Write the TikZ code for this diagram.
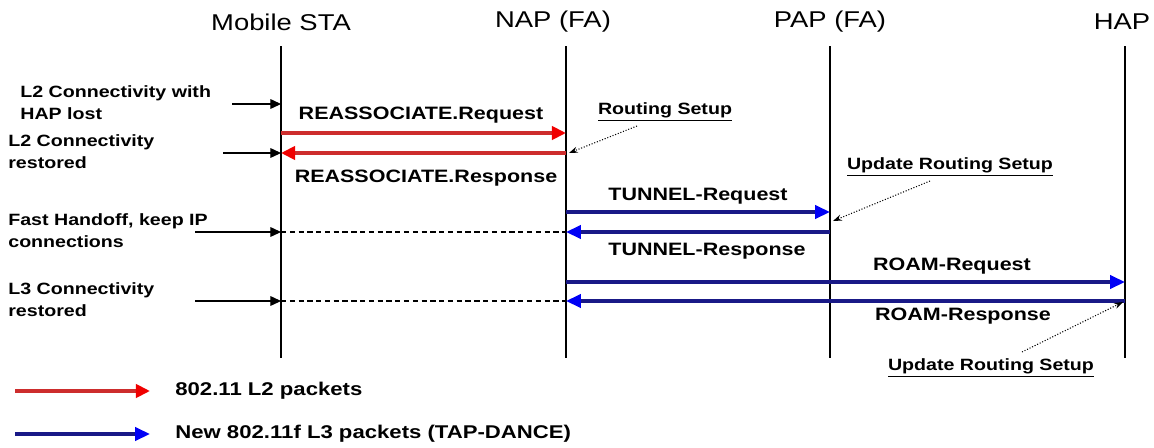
\documentclass[tikz,border=0pt]{standalone}
\usepackage{fontspec}
\setmainfont{Liberation Sans}[FakeStretch=1.2]
\usepackage{xcolor}
\usetikzlibrary{arrows.meta}

\definecolor{linered}{RGB}{205,45,45}
\definecolor{tipred}{RGB}{240,0,0}
\definecolor{lineblue}{RGB}{25,25,135}
\definecolor{tipblue}{RGB}{0,0,245}

\begin{document}
\begin{tikzpicture}[x=0.02cm,y=-0.02cm,
  hdr/.style={font=\fontsize{13}{15}\selectfont,inner sep=0pt},
  lbl/.style={font=\bfseries\fontsize{10.2}{12}\selectfont,inner sep=0pt},
  side/.style={font=\bfseries\fontsize{9.3}{12.5}\selectfont,align=left,anchor=west,inner sep=0pt},
  note/.style={font=\bfseries\fontsize{9.3}{12}\selectfont,inner sep=0pt},
  life/.style={line width=0.7pt},
  l2msg/.style={line width=2pt,linered,-{Triangle[length=8pt,width=7.5pt,color=tipred]}},
  l3msg/.style={line width=1.9pt,lineblue,-{Triangle[length=8.5pt,width=7.5pt,color=tipblue]}},
  event/.style={line width=0.6pt,-{Triangle[length=6pt,width=5.5pt]}},
  noteline/.style={densely dotted,line width=0.6pt,-{Stealth[length=5pt,width=3.5pt]}},
  fwd/.style={densely dashed,line width=0.6pt}]
  \useasboundingbox (0,0) rectangle (1154,447);

  % entities and lifelines
  \node[hdr] (sta) at (281,22) {Mobile STA};
  \node[hdr] (nap) at (553,22) {NAP (FA)};
  \node[hdr] (pap) at (830,22) {PAP (FA)};
  \node[hdr] (hap) at (1122,22) {HAP};
  \foreach \n/\x in {sta/281,nap/566,pap/830,hap/1125}{
    \coordinate (\n T) at (\x,46);
    \coordinate (\n B) at (\x,358);
    \draw[life] (\n T)--(\n B);
  }

  % message rows
  \coordinate (r0) at (0,104);
  \coordinate (r1) at (0,133);
  \coordinate (r2) at (0,153);
  \coordinate (r3) at (0,212);
  \coordinate (r4) at (0,232);
  \coordinate (r5) at (0,282);
  \coordinate (r6) at (0,301);

  \draw[l2msg] (staT|-r1)--(napT|-r1);
  \draw[l2msg] (napT|-r2)--(staT|-r2);
  \node[lbl] (reqa) at (421,115) {REASSOCIATE.Request};
  \node[lbl] (resa) at (426,178) {REASSOCIATE.Response};

  \draw[l3msg] (napT|-r3)--(papT|-r3);
  \draw[l3msg] (papT|-r4)--(napT|-r4);
  \node[lbl] (tunq) at (698,196) {TUNNEL-Request};
  \node[lbl] (tunr) at (707,251) {TUNNEL-Response};

  \draw[l3msg] (napT|-r5)--(hapT|-r5);
  \draw[l3msg] (hapT|-r6)--(napT|-r6);
  \node[lbl] (roaq) at (952,266) {ROAM-Request};
  \node[lbl] (roar) at (963,316) {ROAM-Response};

  \draw[fwd] (staT|-r4)--(napT|-r4);
  \draw[fwd] (staT|-r6)--(napT|-r6);

  % events at the station
  \node[side] (lost) at (20,102.5) {L2 Connectivity with\\HAP lost};
  \node[side] (l2ok) at (8,151.5) {L2 Connectivity\\restored};
  \node[side] (fho) at (8,230.5) {Fast Handoff, keep IP\\connections};
  \node[side] (l3ok) at (8,299.5) {L3 Connectivity\\restored};
  \coordinate (lostA) at (232,104);
  \coordinate (l2okA) at (223,153);
  \coordinate (fhoA) at (195,232);
  \coordinate (l3okA) at (195,301);
  \draw[event] (lostA)--(staT|-r0);
  \draw[event] (l2okA)--(staT|-r2);
  \draw[event] (fhoA)--(staT|-r4);
  \draw[event] (l3okA)--(staT|-r6);

  % routing notes
  \node[note] (rset) at (665,112) {\underline{Routing Setup}};
  \node[note] (upd1) at (950,167) {\underline{Update Routing Setup}};
  \node[note] (upd2) at (991,368) {\underline{Update Routing Setup}};
  \coordinate (rsetA) at (637,126);
  \coordinate (upd1A) at (930,181);
  \coordinate (upd2A) at (1022,352);
  \coordinate (rsetB) at (569,153);
  \coordinate (upd1B) at (833,221);
  \coordinate (upd2B) at (1123,302);
  \draw[noteline] (rsetA)--(rsetB);
  \draw[noteline] (upd1A)--(upd1B);
  \draw[noteline] (upd2A)--(upd2B);

  % legend
  \coordinate (lgA) at (15,391);
  \coordinate (lgB) at (150,391);
  \coordinate (lgC) at (15,434);
  \coordinate (lgD) at (150,434);
  \draw[l2msg] (lgA)--(lgB);
  \draw[l3msg] (lgC)--(lgD);
  \node[lbl,anchor=west,font=\bfseries\fontsize{10.5}{12}\selectfont] (lgl2) at (175,391) {802.11 L2 packets};
  \node[lbl,anchor=west,font=\bfseries\fontsize{10.5}{12}\selectfont] (lgl3) at (175,434) {New 802.11f L3 packets (TAP-DANCE)};
\end{tikzpicture}
\end{document}
